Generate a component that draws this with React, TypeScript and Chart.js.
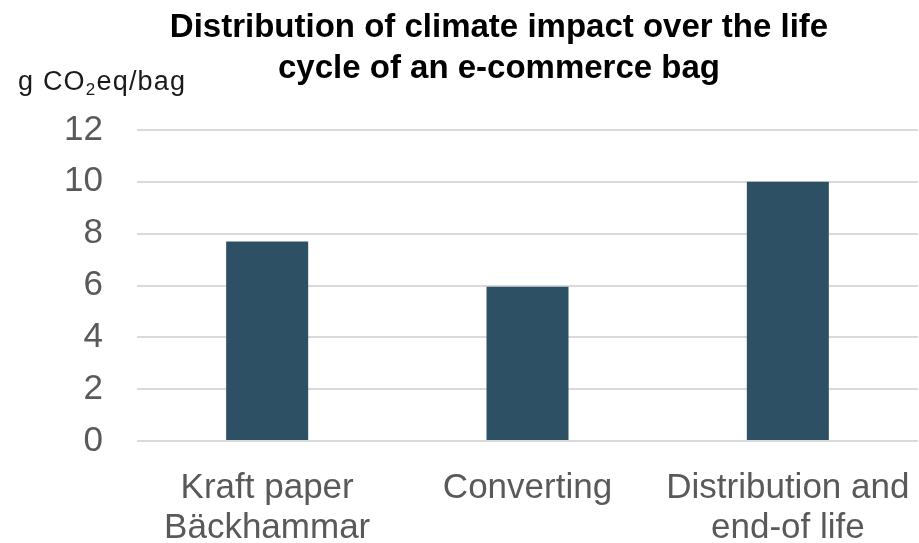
import React, { useEffect, useRef } from "react";
import { Chart, registerables } from "chart.js";

Chart.register(...registerables);

// Life-cycle stages and their climate impact (g CO2eq per bag)
const stages: string[][] = [
  ["Kraft paper", "Bäckhammar"],
  ["Converting"],
  ["Distribution and", "end-of life"],
];
const impactValues: number[] = [7.7, 5.95, 10];

const titleLines: string[] = [
  "Distribution of climate impact over the life",
  "cycle of an e-commerce bag",
];
const yMin = 0;
const yMax = 12;
const yStep = 2;

const BAR_COLOR = "#2D5064";
const GRID_COLOR = "#D9D9D9";
const TICK_COLOR = "#595959";
const FONT = '"Liberation Sans", Arial, Helvetica, sans-serif';

// Two-line heading and the unit label above the value axis
const headerPlugin = {
  id: "header",
  afterDraw(chart: any) {
    const ctx = chart.ctx as CanvasRenderingContext2D;
    ctx.save();
    ctx.fillStyle = "#000000";
    ctx.textAlign = "center";
    ctx.textBaseline = "alphabetic";
    ctx.font = `bold 33px ${FONT}`;
    const cx = 499;
    ctx.fillText(titleLines[0], cx, 37);
    ctx.fillText(titleLines[1], cx, 78);

    // "g CO₂eq/bag" with a lowered, smaller 2
    ctx.textAlign = "left";
    ctx.fillStyle = "#1a1a1a";
    ctx.letterSpacing = "1.2px";
    const base = 90;
    let x = 18;
    const big = `27px ${FONT}`;
    const small = `17px ${FONT}`;
    ctx.font = big;
    const part1 = "g CO";
    ctx.fillText(part1, x, base);
    x += ctx.measureText(part1).width;
    ctx.font = small;
    ctx.fillText("2", x, base + 5);
    x += ctx.measureText("2").width;
    ctx.font = big;
    ctx.fillText("eq/bag", x, base);
    ctx.restore();
  },
};

export default function App() {
  const canvasRef = useRef<HTMLCanvasElement | null>(null);

  useEffect(() => {
    const canvas = canvasRef.current;
    if (!canvas) return;
    const chart = new Chart(canvas, {
      type: "bar",
      data: {
        labels: stages,
        datasets: [
          {
            data: impactValues,
            backgroundColor: BAR_COLOR,
            borderWidth: 0,
            categoryPercentage: 1,
            barPercentage: 0.315,
          },
        ],
      },
      options: {
        animation: false,
        responsive: false,
        maintainAspectRatio: false,
        layout: { padding: { top: 130, right: 1, bottom: 0, left: 0 } },
        plugins: {
          legend: { display: false },
          title: { display: false },
          tooltip: { enabled: false },
        },
        scales: {
          x: {
            grid: { display: false, drawTicks: false },
            border: { display: false },
            ticks: {
              color: TICK_COLOR,
              font: { family: FONT, size: 35, lineHeight: 1.14 },
              padding: 27,
              maxRotation: 0,
              autoSkip: false,
            },
            afterFit(scale: any) {
              scale.height = 102;
              // let the outer labels overhang the plot edges
              scale.paddingLeft = 0;
              scale.paddingRight = 0;
            },
          },
          y: {
            min: yMin,
            max: yMax,
            grid: { color: GRID_COLOR, lineWidth: 2, drawTicks: false },
            border: { display: false },
            ticks: {
              stepSize: yStep,
              color: TICK_COLOR,
              font: { family: FONT, size: 35 },
              padding: 34,
            },
            afterFit(scale: any) {
              scale.width = 137;
            },
          },
        },
      },
      plugins: [headerPlugin],
    });
    return () => chart.destroy();
  }, []);

  return (
    <div style={{ position: "fixed", left: 0, top: 0, width: 919, height: 543, background: "#ffffff" }}>
      <canvas ref={canvasRef} width={919} height={543} style={{ display: "block" }} />
    </div>
  );
}
